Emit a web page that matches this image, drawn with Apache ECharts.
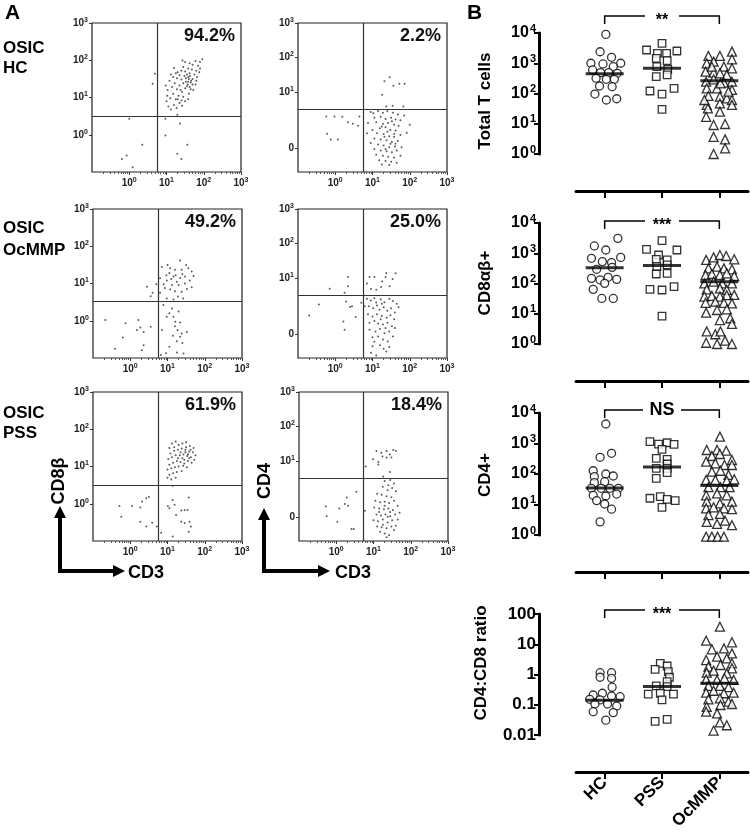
<!DOCTYPE html>
<html>
<head>
<meta charset="utf-8">
<script src="https://cdn.jsdelivr.net/npm/echarts@6/dist/echarts.min.js"></script>
<style>
html, body { margin: 0; background: #fff; }
#chart { width: 750px; height: 837px; }
</style>
</head>
<body>
<div id="chart"></div>
<script>
var FONT = '"Liberation Sans", Arial, sans-serif';

// ---- panel A : flow plots, coordinates in log decades (display scale) ----
var flowPct = ['94.2%', '2.2%', '49.2%', '25.0%', '61.9%', '18.4%'];
var gateX = [0.745, 0.745, 0.745, 0.74, 0.745, 0.72];
var gateY = [0.5, 0.51, 0.53, 0.5, 0.5, 0.5];
var xDecades = [0, 1, 2, 3];
var cd8Ticks = [0, 1, 2, 3];
var cd4Ticks = [-0.62, 1, 2, 3];   // "0" sits on the linear part of the biexponential axis

var dotsHcCd8 = [[1.02,1.05],[1.0,0.9],[1.05,0.76],[1.12,0.68],[1.2,0.8],[1.27,0.72],[1.35,0.85],[1.42,0.78],[1.5,0.9],[1.58,0.95],[1.25,0.95],[1.1,0.98],[1.18,1.1],[1.32,1.05],[1.45,1.02],[1.6,1.1],[1.42,1.15],[1.28,1.22],[1.15,1.28],[1.03,1.2],[0.98,1.32],[1.22,1.38],[1.35,1.32],[1.5,1.25],[1.62,1.28],[1.72,1.2],[1.78,1.35],[1.65,1.4],[1.52,1.42],[1.4,1.48],[1.28,1.52],[1.18,1.55],[1.08,1.45],[1.35,1.6],[1.48,1.58],[1.58,1.55],[1.7,1.5],[1.82,1.55],[1.8,1.45],[1.75,1.62],[1.62,1.65],[1.5,1.7],[1.4,1.72],[1.3,1.68],[1.45,1.82],[1.58,1.78],[1.68,1.75],[1.8,1.72],[1.88,1.68],[1.55,1.62],[1.6,1.5],[1.63,1.58],[1.66,1.45],[1.57,1.35],[1.52,1.52],[1.7,1.88],[1.85,1.85],[1.9,1.78],[1.62,1.92],[1.5,1.95],[1.43,1.99],[1.78,1.98],[1.96,2.03],[1.9,1.95],[1.2,1.79],[1.25,1.65],[1.12,1.62],[1.58,1.42],[1.55,1.3],[1.45,1.38],[1.38,1.2],[1.7,1.35],[1.65,1.22],[1.3,0.95],[1.4,0.92],
  [0.69,1.64],[0.63,1.37],[0.0,0.43],[0.97,0.43],[0.97,-0.02],[1.36,0.3],[0.35,-0.27],[-0.07,-0.56],[-0.2,-0.65],[0.09,-0.87],[1.29,-0.51],[1.56,-0.27],[1.4,-0.65],[1.29,0.54]];

var dotsHcCd4 = [[0.95,0.42],[1.02,0.38],[1.15,0.45],[1.28,0.4],[1.4,0.44],[1.55,0.4],[1.68,0.35],[1.05,0.25],[1.22,0.28],[1.35,0.22],[1.5,0.25],[1.62,0.2],[1.75,0.18],[0.88,0.1],[1.1,0.12],[1.28,0.08],[1.42,0.1],[1.58,0.05],[1.7,0.02],[1.2,-0.05],[1.35,-0.02],[1.48,-0.1],[1.62,-0.12],[1.0,-0.1],[0.85,-0.2],[1.12,-0.2],[1.3,-0.22],[1.45,-0.28],[1.58,-0.3],[1.75,-0.25],[1.92,-0.18],[1.05,-0.35],[1.22,-0.38],[1.38,-0.4],[1.52,-0.45],[1.68,-0.42],[0.95,-0.48],[1.15,-0.52],[1.3,-0.55],[1.45,-0.6],[1.6,-0.58],[1.78,-0.6],[1.05,-0.65],[1.22,-0.7],[1.38,-0.72],[1.52,-0.75],[1.65,-0.7],[1.1,-0.82],[1.28,-0.85],[1.42,-0.88],[1.58,-0.9],[1.75,-0.85],[1.18,-0.98],[1.35,-1.0],[1.5,-1.02],[1.65,-1.05],[1.25,-1.1],[1.45,-1.12],[1.58,-0.22],[1.4,-0.15],[1.25,0.0],[1.52,0.15],[1.35,-0.65],[1.48,-0.5],[1.32,-0.3],[1.62,-0.5],[2.0,0.05],[1.85,0.32],
  [1.32,1.31],[1.46,1.43],[1.56,1.18],[1.72,1.24],[1.86,1.24],[1.26,0.92],[1.37,0.58],[1.54,0.6],[1.83,0.58],
  [-0.24,0.29],[-0.02,0.29],[0.19,0.28],[0.34,0.12],[0.47,0.08],[0.61,0.02],[-0.22,-0.21],[-0.12,-0.38],[0.07,-0.38],[0.65,0.29]];

var dotsOcCd8 = [[1.34,1.62],[0.85,1.44],[1.07,1.41],[1.2,1.37],[1.38,1.37],[1.56,1.41],[1.65,1.32],[0.97,1.22],[1.16,1.19],[1.34,1.15],[1.47,1.19],[1.6,1.08],[0.8,1.14],[0.98,1.08],[1.12,0.96],[1.3,0.96],[1.47,1.0],[1.65,0.9],[0.93,0.88],[1.07,0.84],[1.2,0.79],[1.38,0.78],[0.8,0.75],[0.98,0.6],[1.16,0.57],[0.45,0.91],[0.55,0.66],[1.25,1.05],[1.05,1.28],[1.4,1.25],[1.52,0.85],[0.9,0.98],[1.28,0.65],[1.1,1.12],[1.22,1.22],[1.5,1.5],[1.7,1.2],[0.7,0.98],[1.0,1.5],[1.42,0.6],
  [0.89,0.42],[1.12,0.33],[1.16,0.11],[0.98,0.11],[1.21,-0.03],[1.34,-0.05],[1.27,-0.25],[1.38,-0.34],[1.34,-0.43],[1.25,-0.55],[0.85,-0.25],[1.43,-0.88],[1.25,-0.85],[0.96,-0.87],[0.82,-0.92],[1.3,0.25],[1.05,0.2],[1.2,-0.15],[1.15,-0.4],[1.4,-0.6],[1.05,-0.7],[1.52,-0.3],
  [-0.67,0.02],[-0.13,-0.07],[0.22,0.02],[0.18,-0.25],[0.27,-0.18],[0.36,-0.3],[0.55,-0.16],[-0.41,-0.75],[0.36,-0.66],[0.31,-0.79],[-0.2,-0.45],[0.6,0.75]];

var dotsOcCd4 = [[0.85,0.4],[0.95,0.35],[1.05,0.42],[1.1,0.29],[1.22,0.38],[1.32,0.3],[1.45,0.4],[1.55,0.33],[1.65,0.25],[0.9,0.18],[1.02,0.12],[1.19,0.08],[1.3,0.15],[1.4,0.05],[1.5,0.12],[1.6,0.0],[0.88,-0.05],[1.0,-0.12],[1.12,-0.05],[1.25,-0.1],[1.38,-0.15],[1.48,-0.08],[1.58,-0.2],[0.92,-0.3],[1.05,-0.25],[1.15,-0.32],[1.28,-0.35],[1.4,-0.3],[1.52,-0.4],[0.92,-0.5],[1.08,-0.55],[1.2,-0.48],[1.32,-0.6],[1.45,-0.55],[1.0,-0.72],[1.15,-0.7],[1.28,-0.78],[1.41,-0.84],[1.55,-0.7],[1.0,-0.98],[1.2,-0.95],[1.37,-1.13],[0.96,-1.17],[1.1,-1.25],[1.3,-1.05],[1.7,0.15],[1.22,-0.2],[1.12,0.2],[1.35,-0.45],[1.6,-0.45],[1.25,0.25],[1.05,-0.85],[1.45,-1.0],
  [0.92,1.03],[1.05,1.03],[1.37,1.14],[1.62,1.14],[1.26,0.9],[1.54,0.97],[1.46,0.76],[1.1,0.66],[0.96,0.68],[1.23,0.74],[1.35,1.03],[0.85,0.84],
  [-0.7,-0.09],[-0.44,0.23],[-0.15,0.69],[0.25,0.57],[0.29,0.32],[0.34,1.03],[0.34,0.76],[0.4,0.16],[0.22,-0.26],[0.25,-0.5],[0.55,-0.13],[0.45,0.18],[0.7,0.28],[0.79,0.18]];

var dotsPssCd8 = [[1.05,1.5],[1.12,1.62],[1.22,1.67],[1.3,1.58],[1.4,1.62],[1.5,1.65],[1.6,1.55],[1.7,1.5],[1.08,1.35],[1.18,1.42],[1.28,1.45],[1.38,1.48],[1.48,1.45],[1.58,1.4],[1.68,1.38],[1.75,1.3],[1.02,1.2],[1.12,1.25],[1.22,1.3],[1.33,1.3],[1.43,1.32],[1.53,1.28],[1.63,1.25],[1.72,1.18],[1.05,1.05],[1.15,1.1],[1.25,1.15],[1.35,1.12],[1.45,1.18],[1.55,1.15],[1.65,1.1],[1.0,0.92],[1.1,0.95],[1.2,0.98],[1.3,1.0],[1.42,1.02],[1.52,0.98],[1.05,0.78],[1.15,0.82],[1.25,0.85],[1.38,0.88],[1.1,0.65],[1.22,0.7],[1.0,0.7],[1.48,1.38],[1.58,1.22],[1.4,1.22],[1.5,1.52],[1.35,1.38],[1.62,1.45],[1.45,1.08],[1.18,1.52],[1.28,1.22],[1.55,1.33],
  [1.14,0.48],[1.14,0.1],[1.01,-0.06],[1.05,-0.12],[1.19,-0.03],[1.37,-0.18],[1.57,0.17],[1.46,-0.17],[1.54,-0.17],[1.23,-0.3],[1.37,-0.48],[1.46,-0.52],[1.59,-0.48],[1.63,-0.61],[1.57,-0.75],[0.83,-0.78],[1.14,-0.88],[0.71,-0.61],
  [-0.29,-0.06],[-0.24,-0.35],[0.05,-0.06],[0.27,-0.1],[0.32,0.06],[0.43,0.15],[0.5,0.18],[0.27,-0.48],[0.43,-0.61],[0.59,-0.51]];

var dotsPssCd4 = [[1.08,1.29],[1.21,1.24],[1.35,1.29],[1.44,1.19],[1.53,1.32],[1.6,1.29],[0.99,1.05],[1.13,0.97],[1.24,1.13],[1.35,1.1],[1.48,1.1],[1.13,0.9],[1.44,0.68],[0.79,0.84],[1.26,0.55],
  [1.3,0.42],[1.45,0.45],[1.55,0.35],[1.4,0.3],[1.5,0.22],[1.25,0.25],[1.38,0.15],[1.6,0.12],[1.1,0.05],[1.22,0.02],[1.35,-0.02],[1.48,-0.05],[1.05,-0.15],[1.18,-0.2],[1.3,-0.18],[1.42,-0.22],[1.55,-0.15],[1.65,-0.3],[1.02,-0.35],[1.15,-0.38],[1.28,-0.4],[1.4,-0.38],[1.52,-0.42],[1.08,-0.55],[1.2,-0.58],[1.32,-0.55],[1.45,-0.6],[1.58,-0.55],[1.0,-0.72],[1.12,-0.75],[1.25,-0.7],[1.38,-0.78],[1.5,-0.72],[1.65,-0.7],[1.1,-0.9],[1.22,-0.92],[1.35,-0.95],[1.48,-0.9],[1.6,-0.88],[1.3,-1.1],[1.42,-1.15],[1.35,-1.21],[1.18,-1.05],[1.3,-0.3],[1.45,-0.48],[1.25,-0.85],[1.38,-0.62],[1.15,-0.48],[1.55,-1.0],[1.7,-0.5],
  [-0.28,-0.32],[-0.26,-0.6],[0.03,-0.76],[0.08,-0.38],[0.23,-0.25],[0.28,-0.06],[0.32,-0.3],[0.54,0.11],[0.41,-0.97],[0.47,-0.97],[0.77,-0.44]];

// ---- panel B : [jitter within category, value] ----
var groups = ['HC', 'PSS', 'OcMMP'];

var totalHC = [[0.02,9000],[-0.08,2400],[0.12,1570],[-0.24,1000],[-0.03,950],[0.28,1000],[0.15,770],[-0.21,600],[-0.07,490],[0.07,490],[0.22,465],[-0.15,320],[0.03,294],[0.17,294],[-0.09,177],[0.13,168],[-0.17,96],[0.03,61],[0.21,67]];
var totalPSS = [[0,4550],[-0.27,2740],[-0.08,2130],[0.08,2130],[0.26,2540],[-0.1,1450],[0.09,1220],[-0.09,770],[0.1,630],[-0.1,360],[0.09,410],[-0.21,121],[0,96],[0.21,148],[0,30]];
var totalOcMMP = [[-0.19,1740],[0.01,1740],[0.22,2420],[0.22,1350],[-0.22,990],[-0.1,1130],[0.08,770],[0.22,680],[-0.24,530],[-0.1,490],[0.01,465],[0.13,410],[-0.23,246],[-0.1,294],[0.08,228],[0.22,246],[-0.22,148],[-0.04,148],[0.22,131],[-0.19,83],[0.01,79],[0.13,69],[0.22,61],[-0.22,42],[0.01,47],[0.22,42],[-0.2,32],[0.01,25],[-0.23,17],[-0.1,9.1],[0.1,9.8],[-0.1,3.7],[0.1,3.05],[0.1,1.54],[-0.1,1.0],[-0.13,770],[0.02,217],[0.16,115],[-0.26,61]];

var cd8HC = [[0.23,3110],[-0.18,1740],[0.02,1280],[-0.23,680],[0.28,730],[-0.04,530],[0.12,490],[-0.14,294],[0.13,342],[-0.23,148],[-0.08,131],[0.06,160],[0.21,137],[-0.2,64],[0,101],[-0.05,32],[0.15,32]];
var cd8PSS = [[0,2600],[-0.27,1350],[0.26,1280],[-0.06,875],[0.09,600],[-0.1,630],[-0.09,360],[0.09,410],[-0.1,206],[0.09,217],[-0.21,64],[0,61],[0.21,79],[0,8.4]];
var cd8OcMMP = [[-0.23,600],[-0.1,730],[0.01,875],[0.12,810],[0.26,630],[-0.19,317],[-0.04,360],[0.08,317],[0.22,294],[-0.24,191],[-0.13,206],[0.01,191],[0.13,217],[0.26,177],[-0.26,101],[-0.1,115],[0.05,101],[0.22,101],[-0.22,64],[0.01,69],[0.13,61],[-0.26,37],[-0.13,39],[0.01,37],[0.13,41],[0.26,42],[-0.24,23],[-0.07,25],[0.08,23],[0.22,22],[-0.23,10.9],[-0.04,13.3],[0.13,14],[0.01,6.2],[0.19,7.1],[0.22,4.6],[-0.22,2.6],[-0.07,2.1],[0.02,2.6],[-0.23,1.1],[-0.04,1.0],[0.1,1.29],[0.22,1.0]];

var cd4HC = [[0.02,4360],[-0.08,352],[0.12,476],[-0.2,128],[0.02,100],[-0.18,82],[0.15,86],[-0.18,52],[0,56],[-0.23,34],[-0.06,34],[0.09,34],[0.24,34],[-0.2,20],[0.02,19],[0.21,22],[-0.14,13.4],[0,10.4],[0.12,7],[-0.08,2.7]];
var cd4PSS = [[-0.21,1150],[-0.06,960],[0.09,1060],[0.21,940],[0,645],[-0.1,327],[0.09,303],[0.09,213],[-0.1,153],[0.09,153],[-0.1,72],[0.09,111],[-0.21,16],[-0.03,18],[0.09,14.8],[0.23,13.4],[0,8.1]];
var cd4OcMMP = [[0.01,1680],[-0.22,612],[-0.04,612],[0.12,582],[-0.13,389],[0.01,453],[0.22,288],[-0.23,254],[-0.07,224],[0.09,197],[0.22,197],[-0.13,119],[0.02,128],[0.16,93],[-0.23,64],[-0.07,64],[0.13,60],[0.26,67],[-0.19,37],[0.02,37],[0.18,37],[-0.23,20],[-0.04,23],[0.13,20],[-0.22,12.4],[0.01,10.9],[0.22,12.4],[-0.23,7.5],[-0.1,8.1],[0.08,7.5],[0.22,7.0],[-0.19,4.5],[0.01,4.9],[-0.22,2.7],[-0.04,2.3],[0.1,2.95],[0.22,2.1],[-0.23,0.88],[-0.13,0.88],[-0.03,0.88],[0.08,0.88]];

var ratioHC = [[-0.08,1.15],[-0.08,0.81],[0.12,1.15],[0.12,0.75],[0.13,0.38],[-0.2,0.21],[-0.04,0.24],[-0.26,0.151],[0.12,0.195],[0.27,0.185],[-0.08,0.144],[-0.17,0.106],[0.05,0.106],[0.21,0.091],[-0.2,0.059],[0.15,0.055],[0.02,0.031]];
var ratioPSS = [[-0.03,2.34],[0.09,1.91],[-0.12,1.48],[0.11,1.24],[0.13,0.81],[0.09,0.58],[-0.1,0.42],[0.09,0.4],[-0.24,0.226],[-0.03,0.24],[0.2,0.226],[0,0.144],[-0.12,0.028],[0.09,0.033]];
var ratioOcMMP = [[0.01,38],[-0.23,13.1],[0.22,11.6],[-0.13,6.8],[0.08,7.3],[0.22,5.0],[-0.23,3.0],[-0.04,3.9],[0.13,3.4],[0.22,2.34],[-0.19,1.82],[0.02,2.06],[0.22,1.6],[-0.22,1.15],[-0.1,1.34],[0.13,1.09],[-0.23,0.69],[-0.04,0.66],[0.09,0.75],[0.25,0.66],[-0.19,0.42],[0.01,0.42],[0.16,0.38],[-0.23,0.25],[-0.1,0.29],[0.08,0.24],[0.25,0.25],[-0.19,0.151],[0.01,0.163],[0.16,0.126],[-0.22,0.086],[0.02,0.098],[0.22,0.106],[-0.23,0.059],[-0.04,0.052],[0.01,0.026],[0.13,0.021],[-0.1,0.014]];

var medians = [[450, 680, 265], [330, 390, 115], [35, 170, 42], [0.14, 0.40, 0.51]];
var bNames = ['Total T cells', 'CD8\u03b1\u03b2+', 'CD4+', 'CD4:CD8 ratio'];
var bSig = ['**', '***', 'NS', '***'];

// ---- layout ----
var flowBoxes = [[92, 23], [298, 23], [93, 209], [298, 209], [93, 392], [299, 392]];
var FLOW = 149;
var flowData = [dotsHcCd8, dotsHcCd4, dotsOcCd8, dotsOcCd4, dotsPssCd8, dotsPssCd4];
var isCd4 = [false, true, false, true, false, true];

var bTops = [33, 223, 413, 614];
var bHeights = [121, 121, 122, 121];
var bRange = [[1, 1e4], [1, 1e4], [1, 1e4], [0.01, 100]];
var bData = [[totalHC, totalPSS, totalOcMMP], [cd8HC, cd8PSS, cd8OcMMP], [cd4HC, cd4PSS, cd4OcMMP], [ratioHC, ratioPSS, ratioOcMMP]];
var bBracketY = [16, 221, 410, 610];
var bLabelPos = [[485, 101], [485, 283], [485, 475], [481, 663]];
var symbols = ['circle', 'rect', 'triangle'];
var symbolSizes = [8, 7.5, 9];

var minorDec = [];
for (var d = -1; d < 3; d++) {
    for (var k = 2; k < 10; k++) minorDec.push(d + Math.log10(k));
}

var flowRich = {
    b: { fontSize: 10, fontWeight: 'bold', color: '#222', fontFamily: FONT },
    s: { fontSize: 7, fontWeight: 'bold', color: '#222', fontFamily: FONT, padding: [0, 0, 6, 0] }
};
var bRich = {
    b: { fontSize: 16, fontWeight: 'bold', color: '#000', fontFamily: FONT },
    s: { fontSize: 11, fontWeight: 'bold', color: '#000', fontFamily: FONT, padding: [0, 0, 9, 1] }
};

function decLabel(v) {
    if (v < 0) return '{b|0}';
    return '{b|10}{s|' + Math.round(v) + '}';
}

var grids = [], xAxes = [], yAxes = [], series = [], graphics = [];

flowBoxes.forEach(function (b, i) {
    grids.push({ left: b[0], top: b[1], width: FLOW, height: FLOW, show: true, borderColor: '#222', borderWidth: 1.2 });
    xAxes.push({
        gridIndex: i, type: 'value', min: -1, max: 3, position: 'bottom',
        axisLine: { show: false, onZero: false }, splitLine: { show: false },
        axisTick: { show: true, customValues: xDecades, length: 3, lineStyle: { color: '#333' } },
        axisLabel: { customValues: xDecades, formatter: decLabel, rich: flowRich, margin: 5 }
    });
    xAxes.push({
        gridIndex: i, type: 'value', min: -1, max: 3, position: 'bottom',
        axisLine: { show: false, onZero: false }, splitLine: { show: false },
        axisTick: { show: true, customValues: minorDec, length: 2, lineStyle: { color: '#555' } },
        axisLabel: { show: false }
    });
    var yt = isCd4[i] ? cd4Ticks : cd8Ticks;
    yAxes.push({
        gridIndex: i, type: 'value', min: isCd4[i] ? -1.32 : -1, max: 3, position: 'left',
        axisLine: { show: false, onZero: false }, splitLine: { show: false },
        axisTick: { show: true, customValues: yt, length: 3, lineStyle: { color: '#333' } },
        axisLabel: { customValues: yt, formatter: decLabel, rich: flowRich, margin: 4 }
    });
    series.push({
        type: 'scatter', xAxisIndex: 2 * i, yAxisIndex: i, data: flowData[i],
        symbolSize: 2, itemStyle: { color: '#333' }, silent: true,
        markLine: {
            silent: true, symbol: 'none', label: { show: false },
            lineStyle: { color: '#333', width: 1.2, type: 'solid' },
            data: [{ xAxis: gateX[i] }, { yAxis: gateY[i] }]
        }
    });
    graphics.push({
        type: 'text', x: b[0] + FLOW - 6, y: b[1] + 13,
        style: { text: flowPct[i], font: 'bold 18px ' + FONT, fill: '#111', align: 'right', verticalAlign: 'middle' }
    });
});

bData.forEach(function (plot, j) {
    var gi = 6 + j;
    grids.push({ left: 576, top: bTops[j], width: 172, height: bHeights[j] });
    xAxes.push({
        gridIndex: gi, type: 'category', data: groups, position: 'bottom', offset: 37,
        axisLine: { show: true, onZero: false, lineStyle: { color: '#000', width: 3 } },
        axisTick: { show: true, alignWithLabel: true, length: 7, lineStyle: { color: '#000', width: 2 } },
        axisLabel: j === 3
            ? { rotate: 45, fontWeight: 'bold', fontSize: 17, color: '#000', fontFamily: FONT, margin: 8 }
            : { show: false }
    });
    xAxes.push({ gridIndex: gi, type: 'value', min: 0, max: 3, show: false });
    yAxes.push({
        gridIndex: gi, type: 'log', logBase: 10, min: bRange[j][0], max: bRange[j][1], interval: 1, offset: 37,
        axisLine: { show: true, onZero: false, lineStyle: { color: '#000', width: 3 } },
        axisTick: { show: true, length: 5, lineStyle: { color: '#000', width: 2 } },
        splitLine: { show: false },
        axisLabel: j === 3
            ? { margin: 3, fontSize: 17, fontWeight: 'bold', color: '#000', fontFamily: FONT,
                formatter: function (v) { return String(parseFloat(v.toPrecision(6))); } }
            : { margin: 3, rich: bRich,
                formatter: function (v) { return '{b|10}{s|' + Math.round(Math.log10(v)) + '}'; } }
    });
    var xi = 13 + 2 * j;
    plot.forEach(function (pts, g) {
        series.push({
            type: 'scatter', xAxisIndex: xi, yAxisIndex: gi, clip: false, silent: true,
            symbol: symbols[g], symbolSize: symbolSizes[g],
            itemStyle: { color: '#fff', borderColor: '#000', borderWidth: 1.3 },
            data: pts.map(function (p) { return [g + 0.5 + p[0], p[1]]; })
        });
    });
    series.push({
        type: 'scatter', xAxisIndex: xi, yAxisIndex: gi, clip: false, silent: true, z: 5,
        symbol: 'rect', symbolSize: [38, 3], itemStyle: { color: '#000' },
        data: medians[j].map(function (m, g) { return [g + 0.5, m]; })
    });
    graphics.push({
        type: 'text', x: bLabelPos[j][0], y: bLabelPos[j][1], rotation: Math.PI / 2,
        style: { text: bNames[j], font: 'bold 17px ' + FONT, fill: '#000', align: 'center', verticalAlign: 'middle' }
    });
});

// static annotations
function txt(t, x, y, size, align, rot) {
    return { type: 'text', x: x, y: y, rotation: rot || 0,
        style: { text: t, font: 'bold ' + size + 'px ' + FONT, fill: '#000', align: align || 'left', verticalAlign: 'middle' } };
}
graphics.push(txt('A', 5, 13, 21));
graphics.push(txt('B', 467, 13, 21));
graphics.push(txt('OSIC', 3, 48, 17), txt('HC', 3, 68, 17));
graphics.push(txt('OSIC', 3, 228, 17), txt('OcMMP', 3, 250, 17));
graphics.push(txt('OSIC', 3, 413, 17), txt('PSS', 3, 433, 17));

function arrowSet(cx, cy, topY, rightX) {
    return [
        { type: 'polyline', shape: { points: [[cx, topY + 10], [cx, cy], [rightX - 10, cy]] },
          style: { stroke: '#000', lineWidth: 4, fill: null, lineJoin: 'miter' } },
        { type: 'polygon', shape: { points: [[cx, topY], [cx - 6, topY + 12], [cx + 6, topY + 12]] }, style: { fill: '#000' } },
        { type: 'polygon', shape: { points: [[rightX, cy], [rightX - 12, cy - 6], [rightX - 12, cy + 6]] }, style: { fill: '#000' } }
    ];
}
graphics = graphics.concat(arrowSet(60, 571, 506, 125), arrowSet(264, 571, 508, 330));
graphics.push(txt('CD8\u03b2', 59, 481, 18, 'center', Math.PI / 2));
graphics.push(txt('CD3', 128, 573, 18));
graphics.push(txt('CD4', 265, 481, 18, 'center', Math.PI / 2));
graphics.push(txt('CD3', 335, 573, 18));

var chart = echarts.init(document.getElementById('chart'));
chart.setOption({
    animation: false,
    backgroundColor: '#fff',
    textStyle: { fontFamily: FONT },
    grid: grids,
    xAxis: xAxes,
    yAxis: yAxes,
    series: series
});

// significance brackets from the category positions
bSig.forEach(function (s, j) {
    var xi = 13 + 2 * j;
    var x0 = chart.convertToPixel({ xAxisIndex: xi }, 0.5);
    var xm = chart.convertToPixel({ xAxisIndex: xi }, 1.5);
    var x2 = chart.convertToPixel({ xAxisIndex: xi }, 2.5);
    var y = bBracketY[j];
    var gap = s === 'NS' ? 19 : 17;
    graphics.push({ type: 'polyline', shape: { points: [[x0, y + 8], [x0, y], [xm - gap, y]] },
        style: { stroke: '#000', lineWidth: 1.5, fill: null } });
    graphics.push({ type: 'polyline', shape: { points: [[xm + gap, y], [x2, y], [x2, y + 8]] },
        style: { stroke: '#000', lineWidth: 1.5, fill: null } });
    graphics.push({ type: 'text', x: xm, y: s === 'NS' ? y : y + 5,
        style: { text: s, font: 'bold ' + (s === 'NS' ? 18 : 16) + 'px ' + FONT, fill: '#000', align: 'center', verticalAlign: 'middle' } });
});

chart.setOption({ graphic: graphics });
</script>
</body>
</html>
